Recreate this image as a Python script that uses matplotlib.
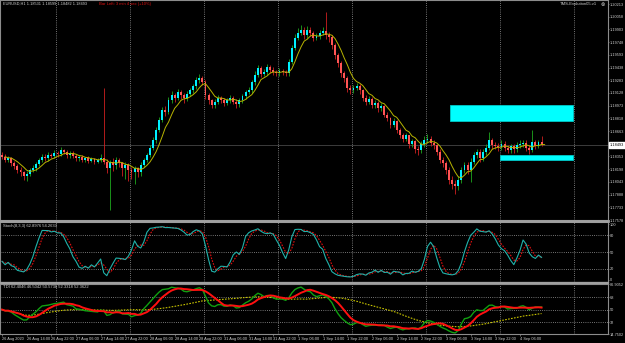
import numpy as np
import pandas as pd
import matplotlib
matplotlib.use("Agg")
import matplotlib.pyplot as plt
import matplotlib.transforms as mtransforms
from matplotlib.patches import Rectangle

plt.rcParams["font.family"] = ["Liberation Sans", "DejaVu Sans"]

W, H = 625, 343

# EURUSD H1 bars, 26 Aug 06:00 -> 4 Sep 13:00
first_open = 1.1837
closes = [
    1.1835, 1.1831, 1.1833, 1.1827, 1.1824, 1.1819, 1.1816, 1.1811, 1.1814, 1.1819,
    1.1821, 1.1826, 1.1831, 1.1835, 1.1833, 1.1837, 1.1836, 1.1840, 1.1838, 1.1843,
    1.1841, 1.1837, 1.1840, 1.1836, 1.1833, 1.1835, 1.1831, 1.1833, 1.1830, 1.1832,
    1.1829, 1.1831, 1.1833, 1.1829, 1.1821, 1.1829, 1.1825, 1.1831, 1.1827, 1.1821,
    1.1825, 1.1819, 1.1816, 1.1821, 1.1816, 1.1825, 1.1831, 1.1837, 1.1846, 1.1855,
    1.1868, 1.1880, 1.1892, 1.1890, 1.1904, 1.1910, 1.1907, 1.1914, 1.1910, 1.1907,
    1.1912, 1.1916, 1.1921, 1.1929, 1.1931, 1.1926, 1.1910, 1.1904, 1.1898, 1.1902,
    1.1907, 1.1904, 1.1901, 1.1904, 1.1907, 1.1902, 1.1899, 1.1904, 1.1909, 1.1914,
    1.1916, 1.1926, 1.1935, 1.1943, 1.1936, 1.1938, 1.1944, 1.1941, 1.1938, 1.1937,
    1.1940, 1.1938, 1.1937, 1.1951, 1.1968, 1.1980, 1.1986, 1.1990, 1.1983, 1.1990,
    1.1986, 1.1980, 1.1982, 1.1986, 1.1988, 1.1983, 1.1981, 1.1971, 1.1959, 1.1949,
    1.1937, 1.1931, 1.1919, 1.1916, 1.1919, 1.1921, 1.1916, 1.1907, 1.1902, 1.1906,
    1.1898, 1.1901, 1.1894, 1.1897, 1.1886, 1.1882, 1.1874, 1.1879, 1.1868, 1.1862,
    1.1857, 1.1861, 1.1850, 1.1854, 1.1845, 1.1843, 1.1850, 1.1856, 1.1857, 1.1852,
    1.1849, 1.1841, 1.1831, 1.1827, 1.1819, 1.1807, 1.1802, 1.1799, 1.1807, 1.1819,
    1.1825, 1.1819, 1.1829, 1.1837, 1.1841, 1.1833, 1.1841, 1.1846, 1.1855, 1.1849,
    1.1848, 1.1847, 1.1851, 1.1846, 1.1843, 1.1848, 1.1844, 1.1849, 1.1851, 1.1852,
    1.1846, 1.1843, 1.1853, 1.1848, 1.1853, 1.18493,
]
highs = [
    1.1841, 1.1838, 1.1836, 1.1835, 1.1830, 1.1826, 1.1822, 1.1818, 1.1817, 1.1821,
    1.1825, 1.1829, 1.1834, 1.1838, 1.1838, 1.1841, 1.1840, 1.1843, 1.1842, 1.1847,
    1.1845, 1.1843, 1.1842, 1.1842, 1.1838, 1.1837, 1.1837, 1.1835, 1.1836, 1.1835,
    1.1834, 1.1834, 1.1838, 1.1919, 1.1832, 1.1831, 1.1833, 1.1835, 1.1834, 1.1829,
    1.1828, 1.1827, 1.1822, 1.1824, 1.1823, 1.1828, 1.1834, 1.1840, 1.1849, 1.1859,
    1.1871, 1.1884, 1.1896, 1.1897, 1.1908, 1.1915, 1.1913, 1.1918, 1.1917, 1.1913,
    1.1915, 1.1919, 1.1924, 1.1932, 1.1936, 1.1934, 1.1928, 1.1913, 1.1906, 1.1905,
    1.1910, 1.1909, 1.1907, 1.1907, 1.1910, 1.1909, 1.1905, 1.1907, 1.1912, 1.1917,
    1.1920, 1.1929, 1.1939, 1.1947, 1.1946, 1.1942, 1.1948, 1.1947, 1.1944, 1.1941,
    1.1943, 1.1942, 1.1941, 1.1954, 1.1971, 1.1985, 1.1992, 1.1996, 1.1993, 1.1994,
    1.1993, 1.1988, 1.1986, 1.1990, 1.1993, 1.2011, 1.1987, 1.1984, 1.1974, 1.1962,
    1.1952, 1.1940, 1.1934, 1.1922, 1.1923, 1.1925, 1.1924, 1.1918, 1.1910, 1.1909,
    1.1908, 1.1904, 1.1903, 1.1900, 1.1898, 1.1889, 1.1884, 1.1882, 1.1880, 1.1870,
    1.1864, 1.1864, 1.1862, 1.1857, 1.1855, 1.1848, 1.1854, 1.1860, 1.1863, 1.1860,
    1.1855, 1.1851, 1.1844, 1.1835, 1.1830, 1.1822, 1.1811, 1.1806, 1.1811, 1.1822,
    1.1829, 1.1828, 1.1834, 1.1841, 1.1845, 1.1844, 1.1845, 1.1850, 1.1865, 1.1858,
    1.1853, 1.1852, 1.1855, 1.1854, 1.1849, 1.1851, 1.1850, 1.1853, 1.1855, 1.1856,
    1.1855, 1.1849, 1.1868, 1.1856, 1.1856, 1.1860,
]
lows = [
    1.1832, 1.1828, 1.1829, 1.1824, 1.1820, 1.1815, 1.1812, 1.1806, 1.1805, 1.1811,
    1.1816, 1.1818, 1.1824, 1.1829, 1.1830, 1.1830, 1.1833, 1.1834, 1.1835, 1.1836,
    1.1838, 1.1834, 1.1834, 1.1833, 1.1830, 1.1830, 1.1828, 1.1828, 1.1827, 1.1828,
    1.1826, 1.1827, 1.1829, 1.1826, 1.1815, 1.1770, 1.1818, 1.1820, 1.1822, 1.1812,
    1.1808, 1.1805, 1.1808, 1.1802, 1.1810, 1.1812, 1.1822, 1.1828, 1.1835, 1.1843,
    1.1852, 1.1865, 1.1877, 1.1885, 1.1887, 1.1900, 1.1902, 1.1904, 1.1905, 1.1901,
    1.1903, 1.1909, 1.1913, 1.1918, 1.1925, 1.1922, 1.1906, 1.1899, 1.1894, 1.1895,
    1.1899, 1.1900, 1.1897, 1.1898, 1.1901, 1.1899, 1.1895, 1.1896, 1.1901, 1.1906,
    1.1911, 1.1913, 1.1923, 1.1932, 1.1932, 1.1933, 1.1935, 1.1937, 1.1935, 1.1934,
    1.1934, 1.1935, 1.1933, 1.1934, 1.1948, 1.1965, 1.1977, 1.1983, 1.1979, 1.1980,
    1.1982, 1.1976, 1.1977, 1.1979, 1.1983, 1.1979, 1.1975, 1.1967, 1.1954, 1.1944,
    1.1932, 1.1926, 1.1914, 1.1912, 1.1913, 1.1916, 1.1912, 1.1903, 1.1898, 1.1899,
    1.1895, 1.1895, 1.1890, 1.1891, 1.1883, 1.1878, 1.1870, 1.1871, 1.1864, 1.1858,
    1.1853, 1.1854, 1.1846, 1.1847, 1.1840, 1.1837, 1.1840, 1.1847, 1.1852, 1.1848,
    1.1845, 1.1837, 1.1827, 1.1822, 1.1814, 1.1802, 1.1796, 1.1790, 1.1795, 1.1803,
    1.1815, 1.1814, 1.1804, 1.1826, 1.1833, 1.1829, 1.1830, 1.1837, 1.1843, 1.1845,
    1.1844, 1.1842, 1.1843, 1.1842, 1.1839, 1.1840, 1.1840, 1.1841, 1.1846, 1.1847,
    1.1842, 1.1838, 1.1841, 1.1845, 1.1846, 1.1848,
]

date_labels = [
    "26 Aug 2020", "26 Aug 14:00", "26 Aug 22:00", "27 Aug 06:00", "27 Aug 14:00",
    "27 Aug 22:00", "28 Aug 06:00", "28 Aug 14:00", "28 Aug 22:00", "31 Aug 06:00",
    "31 Aug 14:00", "31 Aug 22:00", "1 Sep 06:00", "1 Sep 14:00", "1 Sep 22:00",
    "2 Sep 06:00", "2 Sep 14:00", "2 Sep 22:00", "3 Sep 06:00", "3 Sep 14:00",
    "3 Sep 22:00", "4 Sep 06:00",
]
price_ticks = [1.20213, 1.20058, 1.19903, 1.19748, 1.19593, 1.19438, 1.19283, 1.19128,
               1.18973, 1.18818, 1.18663, 1.18353, 1.18198, 1.18043, 1.17888, 1.17733, 1.17578]
last_price = 1.18493

# supply / demand boxes: start bar, end bar, top, bottom
zone_start = [145.3, 161.5]
zone_end = [185.2, 185.2]
zone_top = [1.18981, 1.18371]
zone_bottom = [1.18786, 1.18310]

stoch_levels = [80, 50, 20]
tdi_levels = [68, 50, 32]
tdi_range = (14.7502, 86.9052)

BG = "black"
TXT = "#d0d0d0"
GRID = "#9a9a9a"
BULL, BEAR = "#00f0ff", "#ff5555"
WICK_UP, WICK_DN = "#1fa81f", "#d02020"
FS = 3.0      # panel captions
FS_AX = 2.75  # axis labels

# ---- data frame + indicators
c = pd.Series(closes)
h = pd.Series(highs)
l = pd.Series(lows)
o = pd.Series([first_open] + closes[:-1])
idx = np.arange(len(c))

ma = c.ewm(span=5, adjust=False).mean()

hh = h.rolling(8, min_periods=1).max()
ll = l.rolling(8, min_periods=1).min()
st_main = 100 * (c - ll).rolling(3, min_periods=1).sum() / (hh - ll).rolling(3, min_periods=1).sum()
st_sig = st_main.rolling(3, min_periods=1).mean()

# RSI(13), Wilder averages warmed up from a neutral start
delta = c.diff().fillna(0)
warm = delta.abs().mean() / 2
gains = pd.concat([pd.Series([warm]), delta.clip(lower=0)], ignore_index=True)
losses = pd.concat([pd.Series([warm]), -delta.clip(upper=0)], ignore_index=True)
au = gains.ewm(alpha=1 / 13, adjust=False).mean().iloc[1:].reset_index(drop=True)
ad = losses.ewm(alpha=1 / 13, adjust=False).mean().iloc[1:].reset_index(drop=True)
rsi = 100 - 100 / (1 + au / ad)
tdi_green = rsi.rolling(2, min_periods=1).mean()
tdi_red = rsi.rolling(7, min_periods=1).mean()
tdi_yellow = rsi.rolling(34, min_periods=1).mean()

# ---- layout (pixel boxes)
fig = plt.figure(figsize=(W / 100, H / 100), dpi=100, facecolor=BG)


def box(top, bottom, left=0, right=608):
    return [left / W, 1 - bottom / H, (right - left) / W, (bottom - top) / H]


ax = fig.add_axes(box(0, 220))
ax_st = fig.add_axes(box(222, 282))
ax_td = fig.add_axes(box(284, 334))

xlim = (-0.65, 196.55)
grid_bars = np.arange(17.5, 190, 24)
for a in (ax, ax_st, ax_td):
    a.set_facecolor(BG)
    a.set_xlim(*xlim)
    for s in a.spines.values():
        s.set_color("#8c8c8c")
        s.set_linewidth(0.8)
    a.yaxis.tick_right()
    a.tick_params(axis="y", colors="#8c8c8c", labelcolor=TXT, labelsize=FS_AX,
                  length=1.0, width=0.5, pad=0.3)
    a.tick_params(axis="x", length=0, labelbottom=False)
    for g in grid_bars:
        a.axvline(g, color=GRID, lw=0.6, ls=(0, (1, 1.6)), zorder=0)

# ---- main price panel
ax.set_ylim(1.17578, 1.20262)
ax.set_yticks(price_ticks)
ax.set_yticklabels([f"{p:.5f}" for p in price_ticks])
ax.axhline(last_price, color="#3c3c3c", lw=0.7, zorder=1)

for s, e, t, b in zip(zone_start, zone_end, zone_top, zone_bottom):
    ax.add_patch(Rectangle((s, b), e - s, t - b, facecolor="#00ffff",
                           edgecolor="#00c8c8", lw=0.6, zorder=2))

up = (c >= o).values
body_lo = np.minimum(o, c).values
body_h = np.maximum(np.abs(c - o).values, 0.00003)
ax.vlines(idx[up], l[up], h[up], color=WICK_UP, lw=0.6, zorder=3)
ax.vlines(idx[~up], l[~up], h[~up], color=WICK_DN, lw=0.6, zorder=3)
ax.bar(idx[up], body_h[up], bottom=body_lo[up], width=0.62, color=BULL, lw=0, zorder=4)
ax.bar(idx[~up], body_h[~up], bottom=body_lo[~up], width=0.62, color=BEAR, lw=0, zorder=4)
ax.plot(idx + 1, ma, color="#b8b400", lw=0.7, zorder=5)

tr = mtransforms.blended_transform_factory(ax.transAxes, ax.transData)
ax.text(1.003, last_price, f"{last_price:.5f}", transform=tr, fontsize=FS_AX, color="black",
        va="center", ha="left",
        bbox=dict(facecolor="white", edgecolor="white", pad=0.4))

# ---- stochastic
ax_st.set_ylim(-3.6, 103.6)
ax_st.set_yticks([100] + stoch_levels + [0])
for lv in stoch_levels:
    ax_st.axhline(lv, color=GRID, lw=0.6, ls=(0, (1, 1.6)), zorder=0)
ax_st.plot(idx, st_sig, color="#e01010", lw=0.8, ls=(0, (1.5, 1.2)))
ax_st.plot(idx, st_main, color="#20b2aa", lw=0.8)

# ---- TDI
ax_td.set_ylim(*tdi_range)
ax_td.set_yticks([tdi_range[1]] + tdi_levels + [tdi_range[0]])
ax_td.set_yticklabels([f"{tdi_range[1]:.4f}"] + [str(v) for v in tdi_levels] + [f"{tdi_range[0]:.4f}"])
for lv in tdi_levels:
    ax_td.axhline(lv, color=GRID, lw=0.6, ls=(0, (1, 1.6)), zorder=0)
ax_td.plot(idx, tdi_yellow, color="#c8c400", lw=0.8, ls=(0, (1.5, 1.2)))
ax_td.plot(idx, tdi_green, color="#10a010", lw=1.0)
ax_td.plot(idx, tdi_red, color="#ff1010", lw=1.4)

ax_td.set_xticks(np.arange(0, 8 * len(date_labels), 8))
ax_td.set_xticklabels(date_labels)
ax_td.tick_params(axis="x", labelbottom=True, labelsize=2.75, labelcolor=TXT,
                  colors="#8c8c8c", length=1.5, width=0.5, pad=0.6)
for lab in ax_td.get_xticklabels():
    lab.set_ha("left")

# ---- texts
def px(x, y):
    return x / W, 1 - y / H


fig.text(*px(3, 4), "EURUSD,H1 1.18531 1.18599 1.18482 1.18493", fontsize=2.8,
         color=TXT, va="center")
fig.text(*px(99, 4), "Bar Left: 3 min 4 sec (+10%)", fontsize=FS, color="#e01010", va="center")
fig.text(*px(597, 4), "TMS-Evolution05.v1", fontsize=FS, color=TXT, va="center", ha="right")
fig.text(*px(603, 4), "\u2297", fontsize=3.8, color=TXT, va="center", ha="center",
         family="DejaVu Sans")
fig.text(*px(3, 226), "Stoch(8,3,3) 62.8976 54.2633", fontsize=FS, color=TXT, va="center")
fig.text(*px(3, 287), "TDI 62.4046 46.5042 50.5738 52.3318 52.3622", fontsize=FS,
         color=TXT, va="center")

# panel separators
for yy, lw in ((221, 2.0), (283, 1.6)):
    fig.add_artist(plt.Line2D([0, 608 / W], [1 - yy / H] * 2, color="#a0a0a0", lw=lw))

fig.savefig("out.png", dpi=100, facecolor=BG)
